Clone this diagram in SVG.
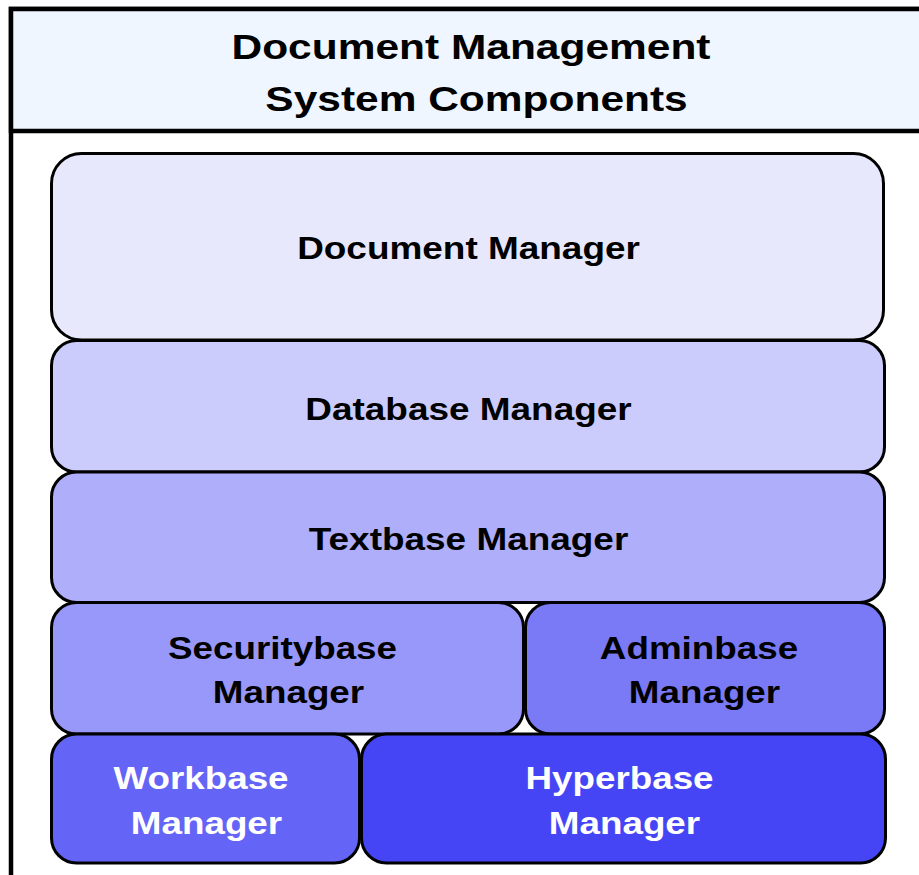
<svg xmlns="http://www.w3.org/2000/svg" width="919" height="875" viewBox="0 0 919 875">
<style>
.box{stroke:#000;stroke-width:3}
.lbl{font-family:"Liberation Sans",Arial,sans-serif;font-weight:bold;font-size:32px;text-anchor:middle}
.dark{fill:#000}
.light{fill:#fff}
.title{font-family:"Liberation Sans",Arial,sans-serif;font-weight:bold;font-size:36px;text-anchor:middle;fill:#000}
</style>
<g id="frame">
<rect x="11" y="9" width="930" height="900" fill="#fff" stroke="#000" stroke-width="4.5"/>
<rect x="11" y="9" width="930" height="122" fill="#eff6ff" stroke="#000" stroke-width="4.5"/>
<text class="title" transform="matrix(1.18 0 0 1 471 59)">Document Management</text>
<text class="title" transform="matrix(1.18 0 0 1 476.5 111)">System Components</text>
</g>
<g id="connectors"></g>
<g id="document-manager">
<rect class="box" x="51.5" y="153.5" width="832" height="186.5" rx="30" fill="#e8e8fc"/>
<text class="lbl dark" transform="matrix(1.155 0 0 1 468.5 259)">Document Manager</text>
</g>
<g id="database-manager">
<rect class="box" x="51.5" y="340.5" width="833" height="131.5" rx="25" fill="#ccccfc"/>
<text class="lbl dark" transform="matrix(1.155 0 0 1 468.5 420)">Database Manager</text>
</g>
<g id="textbase-manager">
<rect class="box" x="51.5" y="472" width="833" height="130.5" rx="25" fill="#aeaefa"/>
<text class="lbl dark" transform="matrix(1.155 0 0 1 468.5 550)">Textbase Manager</text>
</g>
<g id="securitybase-manager">
<rect class="box" x="51.5" y="602.5" width="472" height="131.5" rx="25" fill="#9898fa"/>
<text class="lbl dark" transform="matrix(1.15 0 0 1 282.5 659)">Securitybase</text>
<text class="lbl dark" transform="matrix(1.15 0 0 1 288.5 703)">Manager</text>
</g>
<g id="adminbase-manager">
<rect class="box" x="525.5" y="602.5" width="359" height="131.5" rx="25" fill="#7a7af6"/>
<text class="lbl dark" transform="matrix(1.15 0 0 1 699 659)">Adminbase</text>
<text class="lbl dark" transform="matrix(1.15 0 0 1 704.5 703)">Manager</text>
</g>
<g id="workbase-manager">
<rect class="box" x="51.5" y="734" width="308" height="129" rx="25" fill="#6464f6"/>
<text class="lbl light" transform="matrix(1.15 0 0 1 201 789)">Workbase</text>
<text class="lbl light" transform="matrix(1.15 0 0 1 206.5 834)">Manager</text>
</g>
<g id="hyperbase-manager">
<rect class="box" x="361.5" y="734" width="524" height="129" rx="25" fill="#4545f6"/>
<text class="lbl light" transform="matrix(1.15 0 0 1 619.5 789)">Hyperbase</text>
<text class="lbl light" transform="matrix(1.15 0 0 1 624.5 834)">Manager</text>
</g>
</svg>
